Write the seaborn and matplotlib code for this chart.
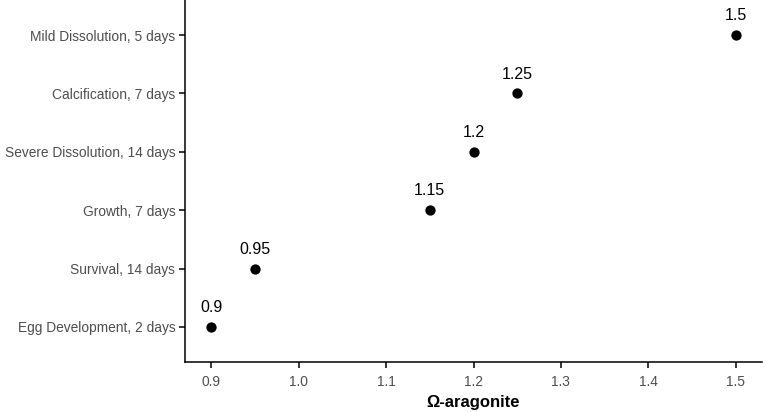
import matplotlib
matplotlib.use("Agg")
import matplotlib.pyplot as plt
import seaborn as sns
import pandas as pd

categories = ["Egg Development, 2 days", "Survival, 14 days", "Growth, 7 days",
              "Severe Dissolution, 14 days", "Calcification, 7 days", "Mild Dissolution, 5 days"]
values = [0.9, 0.95, 1.15, 1.2, 1.25, 1.5]
labels = ["0.9", "0.95", "1.15", "1.2", "1.25", "1.5"]
xticks = [0.9, 1.0, 1.1, 1.2, 1.3, 1.4, 1.5]

sns.set_theme(style="ticks")
plt.rcParams['font.family'] = ['Liberation Sans', 'DejaVu Sans']

df = pd.DataFrame({"cat": categories, "val": values, "pos": range(len(categories))})

fig = plt.figure(figsize=(7.65, 4.12), dpi=100)
ax = fig.add_axes([185/765, 50/412, 577/765, 362/412])
sns.scatterplot(data=df, x="val", y="pos", ax=ax, color="black", s=55, edgecolor="black", linewidth=0, zorder=3)
for v, p, l in zip(values, df["pos"], labels):
    ax.annotate(l, (v, p), xytext=(0, 8.5), textcoords="offset points", ha="center", va="bottom",
                fontsize=11.5, color="black")

ax.set_xlim(0.87, 1.53)
ax.set_ylim(-0.6, 5.6)
ax.set_yticks(range(len(categories)))
ax.set_yticklabels(categories)
ax.set_xticks(xticks)
ax.set_xticklabels([f"{t:.1f}" for t in xticks])
ax.tick_params(axis="both", labelsize=9.9, labelcolor="#4d4d4d", color="black", width=1.1, length=4, pad=3)
ax.tick_params(axis="x", pad=5)
ax.set_xlabel("Ω-aragonite", fontsize=12, fontweight="bold", color="black", labelpad=5)
ax.set_ylabel("")
for s in ["top", "right"]:
    ax.spines[s].set_visible(False)
for s in ["left", "bottom"]:
    ax.spines[s].set_linewidth(1.1)
    ax.spines[s].set_color("black")

fig.savefig("out.png", dpi=100)
